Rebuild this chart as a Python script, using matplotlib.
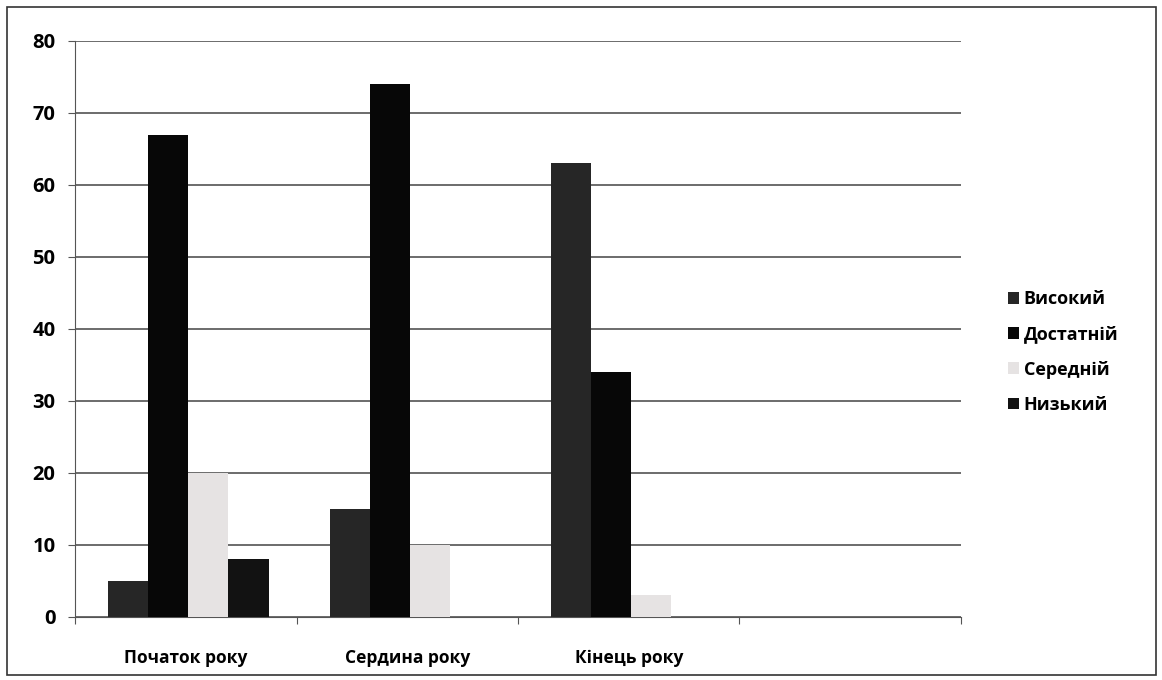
import matplotlib
matplotlib.use("Agg")
import matplotlib.pyplot as plt
import numpy as np
from matplotlib.patches import Rectangle

categories = ["Початок року", "Сердина року", "Кінець року", ""]
series = ["Високий", "Достатній", "Середній", "Низький"]
vysokyi = [5, 15, 63, 0]
dostatnii = [67, 74, 34, 0]
serednii = [20, 10, 3, 0]
nyzkyi = [8, 0, 0, 0]
values = [vysokyi, dostatnii, serednii, nyzkyi]
colors = ["#262626", "#070707", "#e6e3e3", "#121212"]
yticks = [0, 10, 20, 30, 40, 50, 60, 70, 80]

plt.rcParams['font.family'] = ['Open Sans', 'DejaVu Sans']

W, H = 1162, 680
fig = plt.figure(figsize=(W / 100, H / 100), dpi=100)
fig.patches.append(Rectangle((7 / W, 5 / H), 1 - 13 / W, 1 - 12 / H, transform=fig.transFigure,
                             fill=False, edgecolor="#333333", linewidth=1.2))

ax = fig.add_axes([75 / W, 1 - 617 / H, (961 - 75) / W, (617 - 41) / H])

n = len(categories)
centers = np.arange(n) + 0.5
bw = 0.181
for i, (s, vals, c) in enumerate(zip(series, values, colors)):
    xs = centers[:3] + (i - 1.5) * bw + 0.012
    ax.bar(xs, vals[:3], width=bw, color=c, label=s, zorder=3, linewidth=0)

ax.set_xlim(0, n)
ax.set_ylim(0, 80)
ax.set_yticks(yticks)
ax.set_yticklabels([str(t) for t in yticks], fontsize=14.5, fontweight='bold')
ax.yaxis.grid(True, color="#444444", linewidth=1.1, zorder=0)
ax.set_xticks(np.arange(n + 1))
ax.set_xticklabels([])
ax.set_xticks(centers, minor=True)
ax.set_xticklabels(categories, minor=True, fontsize=12.5, fontweight='bold')
ax.tick_params(axis='x', which='minor', length=0, pad=23)
ax.tick_params(axis='x', which='major', length=5, color="#555555", direction='out')
ax.tick_params(axis='y', length=5, color="#555555", pad=9)
for sp in ['top', 'right']:
    ax.spines[sp].set_visible(False)
ax.spines['left'].set_color("#555555")
ax.spines['bottom'].set_color("#555555")

handles, labels = ax.get_legend_handles_labels()
leg = fig.legend(handles, labels, loc='center left', bbox_to_anchor=(992 / W, 1 - 352 / H),
                 frameon=False, prop={'size': 13, 'weight': 'bold'},
                 handlelength=0.6, handleheight=0.6, handletextpad=0.25, labelspacing=0.95)

fig.savefig("out.png", dpi=100, facecolor="white")
